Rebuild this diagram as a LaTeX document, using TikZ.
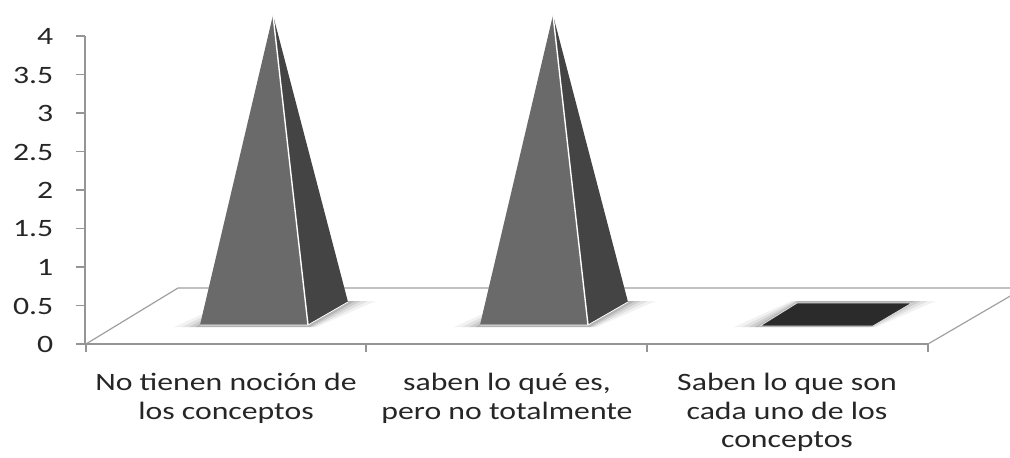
\documentclass[tikz,border=0pt]{standalone}
\usepackage{fontspec}
\newfontfamily\labfont[FakeStretch=1.27]{Carlito}
\definecolor{axisgray}{HTML}{959595}
\definecolor{frontgray}{HTML}{6A6A6A}
\definecolor{sidegray}{HTML}{444444}
\definecolor{flatgray}{HTML}{2B2B2B}
\definecolor{txt}{HTML}{262626}
\tikzset{
  axisline/.style={draw=axisgray, line width=1.8pt},
  floorline/.style={draw=axisgray!90, line width=1.2pt},
  frontface/.style={fill=frontgray},
  sideface/.style={fill=sidegray},
  ridge/.style={draw=white, line width=1.4pt},
  flatface/.style={fill=flatgray, draw=white!85!black, line width=0.9pt},
  lab/.style={anchor=north, align=center, inner sep=0pt, text=txt,
              font=\labfont\fontsize{25}{28.5}\selectfont},
  ylab/.style={anchor=east, inner sep=0pt, text=txt,
              font=\labfont\fontsize{25}{28}\selectfont},
}
\begin{document}
\begin{tikzpicture}[x=1pt,y=-1pt]
\useasboundingbox (0,0) rectangle (1010,458);
\begin{scope}
\clip (0,0) rectangle (1010,458);
% floor (back and sides)
\coordinate (fl) at (86,344);
\coordinate (fbl) at (178,288);
\coordinate (fbr) at (1024,288);
\coordinate (fr) at (928,344);
\draw[floorline] (fl) -- (fbl) -- (fbr) -- (fr);
% shadows
\foreach \dx in {0,280,560}{
  \foreach \s/\o in {26/0.05,18/0.07,11/0.09,5/0.12}{
    \fill[black, opacity=\o] (200+\dx-\s,327) -- (308+\dx+\s/3,327)
       -- (350+\dx+\s,301) -- (240+\dx-\s/3,301) -- cycle;
  }
}
% pyramids
\foreach \dx in {0,280}{
  \coordinate (pfl) at (200+\dx,325);
  \coordinate (pfr) at (308+\dx,325);
  \coordinate (pbr) at (348+\dx,302);
  \coordinate (pap) at (273+\dx,15);
  \fill[sideface] (pfr) -- (pbr) -- (pap) -- cycle;
  \fill[frontface] (pfl) -- (pfr) -- (pap) -- cycle;
  \draw[ridge] (pfr) -- (pap);
  \draw[draw=white, line width=0.8pt] (pfl) -- (pfr) -- (pbr);
}
% zero-height item
\coordinate (qfl) at (760,326);
\coordinate (qfr) at (873,326);
\coordinate (qbr) at (912,303);
\coordinate (qbl) at (797,303);
\draw[flatface] (qfl) -- (qfr) -- (qbr) -- (qbl) -- cycle;
% axes
\coordinate (ytop) at (85,36);
\draw[axisline] (ytop) -- (85,344);
\draw[axisline] (fl) -- (fr);
\foreach \x in {86,366,647,928}{
  \draw[axisline] (\x,344) -- (\x,352);
}
\foreach \v [count=\i] in {0,0.5,1,1.5,2,2.5,3,3.5,4}{
  \draw[axisline] (76,{344-77*\v}) -- (85,{344-77*\v});
  \node[ylab] (y\i) at (53.5,{344.5-77*\v}) {\v};
}
\end{scope}
% category labels
\node[lab] (c1) at (226,373) {No tienen noción de\\los conceptos};
\node[lab] (c2) at (507,373) {saben lo qué es,\\pero no totalmente};
\node[lab] (c3) at (787,373) {Saben lo que son\\cada uno de los\\conceptos};
\end{tikzpicture}
\end{document}
